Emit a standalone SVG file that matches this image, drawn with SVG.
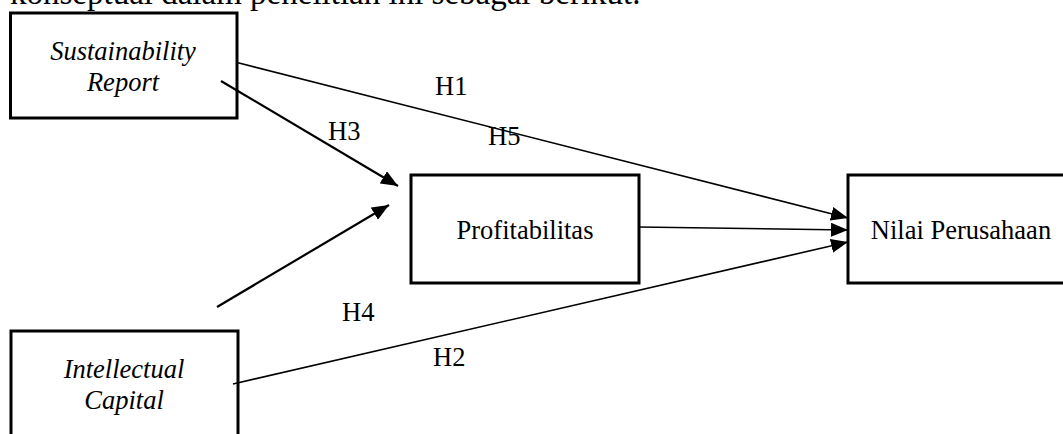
<svg xmlns="http://www.w3.org/2000/svg" width="1063" height="434" viewBox="0 0 1063 434">
<style>
text{font-family:"Liberation Serif","Times New Roman",serif;font-size:26.5px;fill:#000}
.it{font-style:italic}
.top{font-size:33px}
.box{fill:#fff;stroke:#000;stroke-width:3}
.ln{stroke:#000;stroke-width:1.6;fill:none}
.lt{stroke:#000;stroke-width:2.2;fill:none}
</style>
<defs>
<marker id="ah" markerUnits="userSpaceOnUse" markerWidth="17" markerHeight="14" refX="17" refY="7" orient="auto">
<path d="M0,0 L17,7 L0,14 z" fill="#000"/>
</marker>
</defs>
<rect width="1063" height="434" fill="#fff"/>
<text class="top" x="10" y="4">konseptual dalam penelitian ini sebagai berikut.</text>
<g id="node-sr">
<rect class="box" x="10.5" y="13" width="226.5" height="105"/>
<text class="it" x="123" y="60" text-anchor="middle">Sustainability</text>
<text class="it" x="123" y="91" text-anchor="middle">Report</text>
</g>
<g id="node-prof">
<rect class="box" x="411" y="175" width="228" height="108"/>
<text x="525" y="239" text-anchor="middle">Profitabilitas</text>
</g>
<g id="node-nilai">
<rect class="box" x="848" y="175" width="230" height="108"/>
<text x="961" y="239" text-anchor="middle">Nilai Perusahaan</text>
</g>
<g id="node-ic">
<rect class="box" x="11" y="331" width="227" height="120"/>
<text class="it" x="124" y="378" text-anchor="middle">Intellectual</text>
<text class="it" x="124" y="409" text-anchor="middle">Capital</text>
</g>
<g id="connectors">
<line class="ln" x1="237" y1="62.5" x2="848" y2="218" marker-end="url(#ah)"/>
<line class="lt" x1="221" y1="81" x2="398" y2="186" marker-end="url(#ah)"/>
<line class="lt" x1="217" y1="307" x2="389" y2="205" marker-end="url(#ah)"/>
<line class="ln" x1="639" y1="227" x2="848" y2="230" marker-end="url(#ah)"/>
<line class="ln" x1="233" y1="384" x2="848" y2="242" marker-end="url(#ah)"/>
</g>
<g id="labels">
<text x="435" y="95">H1</text>
<text x="328" y="140">H3</text>
<text x="488" y="145">H5</text>
<text x="342" y="321">H4</text>
<text x="433" y="366">H2</text>
</g>
</svg>
